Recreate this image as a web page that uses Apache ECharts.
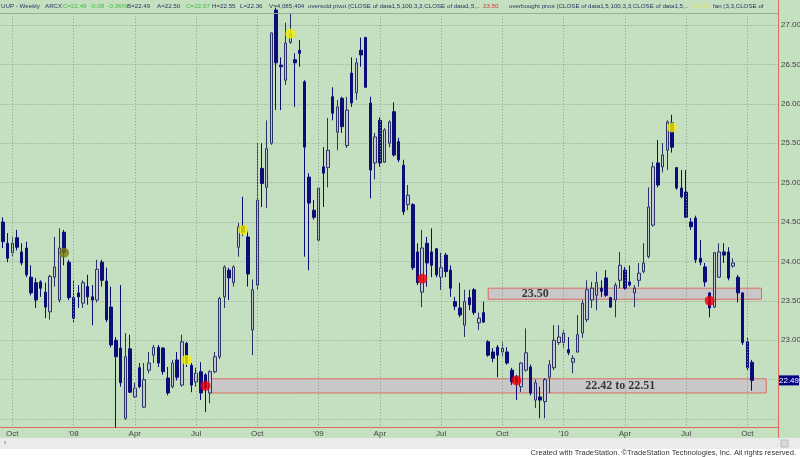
<!DOCTYPE html>
<html><head><meta charset="utf-8">
<script src="https://cdn.jsdelivr.net/npm/echarts/dist/echarts.min.js"></script>
<style>html,body{margin:0;padding:0;background:#fff}#c{width:800px;height:457px}</style>
</head><body><div id="c"></div>
<script>
// ---- data ----
const startWeek = [2007, 8, 21];   // first weekly bar (Fri 21 Sep 2007)
const totalWeeks = 165;            // 160 bars + 5 empty slots on the right
const open = [
24.50,24.23,24.11,24.30,24.12,24.17,23.80,23.73,23.74,23.61,
23.36,23.80,23.51,24.37,23.99,23.54,23.60,23.47,23.68,23.55,
23.51,23.99,23.75,23.42,23.00,22.90,22.01,22.89,22.28,22.65,
22.15,22.62,22.81,22.91,22.90,22.52,22.41,22.75,22.43,22.96,
22.68,22.47,22.60,22.56,22.33,22.60,22.79,23.55,23.89,23.73,
24.18,24.45,24.31,23.13,23.70,25.18,24.94,25.50,27.19,26.49,
26.30,26.78,26.56,26.68,26.28,25.07,24.65,24.27,25.20,25.19,
26.09,25.64,26.07,25.47,26.39,26.14,26.68,26.84,26.01,25.25,
25.79,25.26,25.50,25.90,25.52,25.22,24.72,24.72,24.12,23.61,
24.23,24.12,24.16,23.80,24.08,23.89,23.49,23.41,23.19,23.54,
23.64,23.22,23.35,22.98,22.85,22.91,22.85,22.85,22.62,22.53,
22.41,22.62,22.66,22.24,22.28,22.22,22.53,22.65,22.97,22.97,
22.88,22.72,22.85,23.09,23.26,23.51,23.57,23.66,23.79,23.54,
23.51,23.76,23.89,23.74,23.60,23.76,23.87,24.06,24.46,25.25,
25.20,25.41,25.76,25.19,24.93,24.88,24.50,24.55,24.04,23.93,
23.60,23.42,23.80,24.12,24.12,23.94,23.80,23.60,22.98,22.72];
const high = [
24.56,24.36,24.31,24.40,24.23,24.25,23.95,23.79,23.76,23.73,
23.83,24.31,24.42,24.40,24.02,23.76,23.70,23.76,23.83,23.70,
24.02,24.02,23.92,23.68,23.04,23.70,23.09,23.07,22.46,22.71,
22.71,22.85,22.94,22.94,22.91,22.66,22.75,22.85,23.07,22.98,
22.71,22.65,22.72,22.58,22.62,22.85,23.55,23.95,23.92,23.95,
24.49,24.82,24.40,23.77,25.50,25.50,25.79,26.90,27.22,26.59,
27.03,27.15,26.64,26.81,26.30,25.12,24.78,24.94,25.45,25.82,
26.21,26.05,26.09,26.09,26.59,26.58,26.84,26.85,26.09,25.63,
25.83,25.69,25.79,26.02,25.57,25.29,24.97,24.74,24.23,24.40,
24.31,24.42,24.17,24.11,24.11,23.95,23.55,23.73,23.64,23.64,
23.66,23.35,23.49,23.00,22.90,22.94,22.98,22.91,22.65,22.56,
22.72,23.15,22.69,22.50,22.41,22.52,22.75,23.19,23.19,23.13,
23.04,22.81,23.32,23.51,23.76,23.74,23.87,23.76,23.89,23.55,
23.73,24.12,23.93,23.95,23.70,23.98,24.23,24.94,25.26,25.54,
25.50,25.79,25.86,25.20,25.16,25.16,24.55,24.58,24.27,23.98,
23.61,24.12,24.23,24.23,24.18,24.04,23.83,23.61,23.04,22.75];
const low = [
24.17,23.99,24.06,24.14,23.95,23.80,23.57,23.41,23.55,23.28,
23.26,23.68,23.48,23.95,23.51,23.23,23.41,23.41,23.45,23.19,
23.48,23.68,23.23,22.91,21.89,22.41,21.99,22.33,22.27,22.39,
22.14,22.58,22.71,22.66,22.56,22.30,22.39,22.49,22.41,22.66,
22.34,22.41,22.24,22.09,22.20,22.58,22.76,23.41,23.51,23.68,
24.06,24.32,23.68,22.81,23.64,24.69,24.68,25.48,25.92,25.92,
26.24,26.76,25.96,26.47,24.06,23.89,24.53,24.25,24.69,24.94,
25.79,25.41,25.63,25.44,25.96,26.05,26.47,26.20,24.80,25.04,
25.20,25.25,25.45,25.33,25.26,24.59,24.65,23.89,23.70,23.42,
23.68,23.80,23.80,23.64,23.80,23.55,23.38,23.29,23.04,23.38,
23.32,23.13,23.22,22.79,22.72,22.53,22.79,22.69,22.43,22.24,
22.34,22.60,22.30,22.14,22.01,22.01,22.33,22.62,22.94,22.90,
22.81,22.58,22.84,23.03,23.23,23.41,23.38,23.55,23.55,23.41,
23.29,23.66,23.64,23.68,23.42,23.68,23.85,24.04,24.44,24.94,
25.13,25.16,25.38,24.91,24.80,24.55,24.40,23.98,23.95,23.68,
23.29,23.41,23.79,23.98,23.76,23.92,23.48,22.94,22.62,22.36];
const close = [
24.25,24.04,24.23,24.18,23.98,23.83,23.60,23.51,23.66,23.42,
23.81,23.93,24.17,24.11,23.54,23.28,23.55,23.73,23.55,23.51,
23.90,23.76,23.26,22.94,22.79,22.46,22.79,22.34,22.39,22.41,
22.50,22.71,22.91,22.71,22.60,22.33,22.71,22.53,22.98,22.71,
22.43,22.58,22.33,22.39,22.60,22.79,23.53,23.93,23.79,23.93,
24.44,24.37,23.84,23.64,24.78,24.99,25.43,26.90,26.52,26.47,
26.77,26.89,26.52,26.64,25.45,24.74,24.56,24.93,25.12,25.41,
25.88,25.96,25.71,25.92,26.01,26.52,26.62,26.21,25.16,25.58,
25.25,25.67,25.77,25.35,25.29,24.63,24.84,23.92,23.73,24.17,
23.98,23.95,23.83,23.92,23.87,23.66,23.43,23.32,23.49,23.45,
23.35,23.28,23.23,22.81,22.77,22.81,22.90,22.71,22.47,22.46,
22.71,22.84,22.33,22.46,22.24,22.50,22.69,23.00,23.04,23.09,
22.84,22.77,23.07,23.47,23.64,23.66,23.73,23.62,23.57,23.42,
23.70,23.95,23.66,23.70,23.66,23.85,23.98,24.69,25.20,24.97,
25.35,25.77,25.45,24.93,24.82,24.56,24.44,24.02,23.99,23.74,
23.41,24.11,24.12,24.08,23.79,23.98,23.60,22.97,22.65,22.49];

// pivot markers [bar index, price]
const oversoldDots   = [[43,22.42],[89,23.78],[109,22.49],[150,23.50]];   // red
const overboughtDots = [[39,22.75],[51,24.40],[61,26.89],[142,25.70]];   // yellow
const otherDots      = [[13,24.11]];                                      // olive

// x tick labels
const tickWeeks  = [2,15,28,41,54,67,80,93,106,119,132,145,158];
const tickLabels = ["Oct","'08","Apr","Jul","Oct","'09","Apr","Jul","Oct","'10","Apr","Jul","Oct"];

// support zones
const zoneStart  = [102.7, 44];
const zoneEnd    = [160.5, 161.5];
const zoneTop    = [23.66, 22.51];
const zoneBottom = [23.52, 22.33];
const zoneText   = ["23.50", "22.42 to 22.51"];
const zoneTextAt = [[112.7, 23.59], [130.5, 22.42]];

// ---- build ----
const cats = [];
{ let t = Date.UTC(startWeek[0], startWeek[1], startWeek[2]);
  for (let k = 0; k < totalWeeks; k++) { cats.push(new Date(t).toISOString().slice(0,10)); t += 7*864e5; } }
const candles = open.map((o,k)=>[o, close[k], low[k], high[k]]);
const tickMap = {}; tickWeeks.forEach((w,k)=>tickMap[w]=tickLabels[k]);

const GREEN = '#c5dfc1', GRID = '#8e9e8c', RED = '#e06a60';
const chart = echarts.init(document.getElementById('c'), null, {renderer:'canvas'});
const yTop = 27.5, yBot = 21.5;  // 27.00 at y=25, 22.00 at y=419
const pxPerUnit = 78.8;
const gridTop = 25 - (yTop-27)*pxPerUnit;
const gridH = (yTop-yBot)*pxPerUnit;
const FONT = '"Liberation Sans", Arial, sans-serif';

chart.setOption({
  animation:false,
  backgroundColor: GREEN,
  grid:{left:0.5, width:777.5, top:gridTop, height:gridH, containLabel:false, outerBoundsMode:'none'},
  xAxis:{type:'category', data:cats, boundaryGap:true, offset: 427-(gridTop+gridH),
    axisLine:{show:true, lineStyle:{color:RED, width:1}},
    axisTick:{show:false},
    splitLine:{show:false},
    axisLabel:{interval:(i)=>tickMap[i]!==undefined, formatter:(v,i)=>tickMap[i]||'',
      fontSize:8, color:'#444', margin:3, fontFamily:FONT}},
  yAxis:{type:'value', position:'right', min:yBot, max:yTop, interval:0.5,
    axisLine:{show:true, lineStyle:{color:RED, width:1}},
    axisTick:{show:false},
    splitLine:{show:true, lineStyle:{color:GRID, type:[1,2], width:1}},
    axisLabel:{fontSize:8, color:'#444', margin:3, fontFamily:FONT,
      formatter:(v)=> (v>22.2 && v<27.2) ? v.toFixed(2) : ''}},
  series:[
    {type:'line', data:[], z:1, silent:true,
     markArea:{silent:true, itemStyle:{color:'#c8c8c8', borderColor:RED, borderWidth:1},
       data: zoneStart.map((s,k)=>[{xAxis:s, yAxis:zoneTop[k]},{xAxis:zoneEnd[k], yAxis:zoneBottom[k]}])},
     markLine:{silent:true, symbol:'none', label:{show:false},
       lineStyle:{color:GRID, type:[1,2], width:1},
       data: tickWeeks.map(w=>[{coord:[w, 27.15]},{coord:[w, 21.9]}])}},
    {type:'candlestick', data:candles, z:3, barWidth:3,
     itemStyle:{color:'#c3c7d3', color0:'#0d0d7a', borderColor:'#2b3168', borderColor0:'#0d0d7a', borderWidth:1}},
    {type:'scatter', data:otherDots, symbolSize:10, z:5, itemStyle:{color:'#7d7a12'}},
    {type:'scatter', data:overboughtDots, symbolSize:10, z:5, itemStyle:{color:'#f4f000'}},
    {type:'scatter', data:oversoldDots, symbolSize:10, z:5, itemStyle:{color:'#f00000'}},
    {type:'scatter', data:zoneTextAt.map((p,k)=>[p[0],p[1],zoneText[k]]), symbolSize:0, z:6,
     label:{show:true, position:'inside', formatter:(p)=>p.data[2], color:'#111',
       fontFamily:'"Liberation Serif", "Times New Roman", serif', fontWeight:'bold', fontSize:12}}
  ]
});

// frame, header, footer
const lastY = chart.convertToPixel({yAxisIndex:0}, close[close.length-1]);
const DARK = '#2c3360', GREENTXT = '#3cc23c';
const hdr = [
  [1,'UUP - Weekly',DARK],[45,'ARCX',DARK],[63,'C=22.49  -0.08  -0.36%',GREENTXT],
  [127,'B=22.49',DARK],[157,'A=22.50',DARK],[186,'O=22.57',GREENTXT],
  [212,'H=22.55',DARK],[240,'L=22.36',DARK],[269,'V=4,085,404',DARK],
  [308,'oversold pivot (CLOSE of data1,5,100,3,3,CLOSE of data1,5,..',DARK],
  [483,'23.50','#e03030'],
  [509,'overbought pivot (CLOSE of data1,5,100,3,3,CLOSE of data1,5,..',DARK],
  [693,'25.71','#e6e63a'],[713,'fan (3,3,CLOSE of',DARK]
];
const g = hdr.map(h=>({type:'text', x:h[0], y:6, z:50,
  style:{text:h[1], fill:h[2], font:'6.2px ' + FONT, textVerticalAlign:'middle'}}));
g.push({type:'line', z:40, shape:{x1:0,y1:13.5,x2:778,y2:13.5}, style:{stroke:'#9aab98', lineWidth:1}});
g.push({type:'rect', z:60, shape:{x:0,y:438,width:800,height:11}, style:{fill:'#ebebeb'}});
g.push({type:'rect', z:60, shape:{x:0,y:449,width:800,height:8}, style:{fill:'#ffffff'}});
g.push({type:'rect', z:61, shape:{x:781,y:440,width:7,height:7}, style:{fill:'#d8d8d8', stroke:'#bbb'}});
g.push({type:'text', z:61, x:4, y:443, style:{text:'‹', fill:'#666', font:'7px ' + FONT, textVerticalAlign:'middle'}});
g.push({type:'text', z:61, x:796, y:453, style:{text:'Created with TradeStation. ©TradeStation Technologies, Inc. All rights reserved.', fill:'#333', font:'7.5px ' + FONT, textAlign:'right', textVerticalAlign:'middle'}});
g.push({type:'rect', z:55, shape:{x:779,y:lastY-5,width:20,height:10}, style:{fill:'#000080'}});
g.push({type:'text', z:56, x:789, y:lastY, style:{text:close[close.length-1].toFixed(2), fill:'#fff', font:'8px ' + FONT, textAlign:'center', textVerticalAlign:'middle'}});
chart.setOption({graphic:g});
</script></body></html>
